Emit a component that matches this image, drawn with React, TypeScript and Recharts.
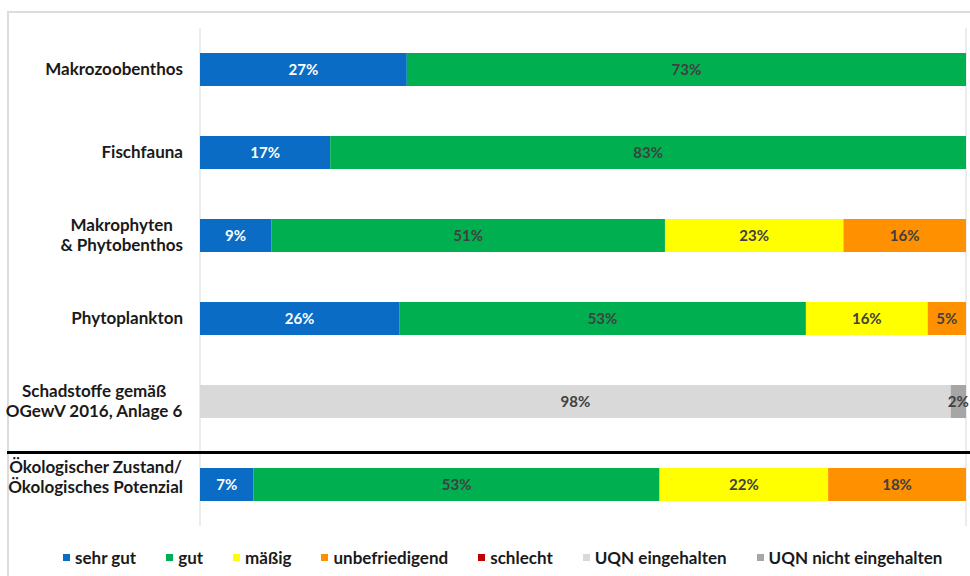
import React from 'react';
import { BarChart, Bar, XAxis, YAxis, CartesianGrid, Legend, LabelList } from 'recharts';

const categories = [
  'Makrozoobenthos',
  'Fischfauna',
  'Makrophyten\n& Phytobenthos',
  'Phytoplankton',
  'Schadstoffe gemäß\nOGewV 2016, Anlage 6',
  'Ökologischer Zustand/\nÖkologisches Potenzial',
];

const sehrGut = [27, 17, 9.3, 26, 0, 7];
const gut = [73, 83, 51.4, 53.1, 0, 53];
const maessig = [0, 0, 23.3, 15.9, 0, 22];
const unbefriedigend = [0, 0, 16, 5, 0, 18];
const schlecht = [0, 0, 0, 0, 0, 0];
const uqnEingehalten = [0, 0, 0, 0, 98, 0];
const uqnNicht = [0, 0, 0, 0, 2, 0];

const xTicks = [0, 10, 20, 30, 40, 50, 60, 70, 80, 90, 100];

const SERIES = [
  { key: 'sehrGut', name: 'sehr gut', color: '#0a6cc4', label: '#ffffff', values: sehrGut },
  { key: 'gut', name: 'gut', color: '#00b050', label: '#404040', values: gut },
  { key: 'maessig', name: 'mäßig', color: '#ffff00', label: '#404040', values: maessig },
  { key: 'unbefriedigend', name: 'unbefriedigend', color: '#ff9000', label: '#404040', values: unbefriedigend },
  { key: 'schlecht', name: 'schlecht', color: '#c00000', label: '#ffffff', values: schlecht },
  { key: 'uqnEingehalten', name: 'UQN eingehalten', color: '#d9d9d9', label: '#404040', values: uqnEingehalten },
  { key: 'uqnNicht', name: 'UQN nicht eingehalten', color: '#a6a6a6', label: '#404040', values: uqnNicht },
];

const data = categories.map((name, i) => {
  const row: Record<string, string | number> = { name };
  SERIES.forEach((s) => { row[s.key] = s.values[i]; });
  return row;
});

const FONT = 'Lato, "Open Sans", sans-serif';

let ctx: CanvasRenderingContext2D | null = null;
const measure = (text: string, font: string) => {
  if (!ctx) ctx = document.createElement('canvas').getContext('2d');
  if (!ctx) return text.length * 8;
  ctx.font = font;
  return ctx.measureText(text).width;
};

const CategoryTick = (props: any) => {
  const { y, payload } = props;
  const lines: string[] = String(payload.value).split('\n');
  const right = 183;
  const widths = lines.map((l) => measure(l, 'bold 17px Lato'));
  const maxW = Math.max(...widths);
  const cx = right - maxW / 2;
  const lineH = 20;
  // the last label sits a little above its bar in the original
  const shift = payload.index === categories.length - 1 ? -7 : 0;
  const startY = y + shift - ((lines.length - 1) * lineH) / 2;
  return (
    <text fontFamily={FONT} fontSize={17} fontWeight="bold" fill="#1a1a1a" textAnchor="middle">
      {lines.map((l, i) => (
        <tspan key={i} x={cx} y={startY + i * lineH} dy="0.35em">{l}</tspan>
      ))}
    </text>
  );
};

const LegendContent = () => (
  <div style={{ display: 'flex', alignItems: 'center', gap: 30, fontFamily: FONT, fontSize: 17, fontWeight: 700, color: '#1a1a1a' }}>
    {SERIES.map((s) => (
      <div key={s.key} style={{ display: 'flex', alignItems: 'center' }}>
        <span style={{ width: 7, height: 7, background: s.color, marginRight: 5, display: 'inline-block' }} />
        <span style={{ fontWeight: 700 }}>{s.name}</span>
      </div>
    ))}
  </div>
);

const pct = (v: any) => (Number(v) > 0 ? `${Math.round(Number(v))}%` : '');

export default function App() {
  return (
    <div style={{ position: 'absolute', left: 0, top: 0, width: 970, height: 576, background: '#fff', overflow: 'hidden' }}>
      <div style={{ position: 'absolute', left: 7, top: 11, width: 980, height: 600, borderTop: '2px solid #dcdcdc', borderLeft: '2px solid #dcdcdc' }} />
      <div style={{ position: 'absolute', left: 0, top: 0 }}>
        <BarChart
          layout="vertical"
          width={970}
          height={576}
          data={data}
          margin={{ top: 28, right: 4, left: 0, bottom: 29 }}
        >
          <CartesianGrid horizontal={false} vertical={true} stroke="#d9d9d9" />
          <XAxis type="number" domain={[0, 100]} ticks={xTicks} tick={false} axisLine={false} tickLine={false} height={0} />
          <YAxis type="category" dataKey="name" width={200} axisLine={false} tickLine={false} tick={<CategoryTick />} interval={0} />
          <Legend verticalAlign="bottom" content={<LegendContent />} wrapperStyle={{ position: 'absolute', left: 63, top: 547, width: 900 }} />
          {SERIES.map((s) => (
            <Bar key={s.key} dataKey={s.key} name={s.name} stackId="a" fill={s.color} barSize={33} isAnimationActive={false}>
              <LabelList dataKey={s.key} position="center" formatter={pct} fill={s.label} fontSize={15} fontWeight="bold" fontFamily={FONT} />
            </Bar>
          ))}
        </BarChart>
      </div>
      <div style={{ position: 'absolute', left: 7, top: 451, width: 970, height: 3, background: '#000' }} />
    </div>
  );
}
